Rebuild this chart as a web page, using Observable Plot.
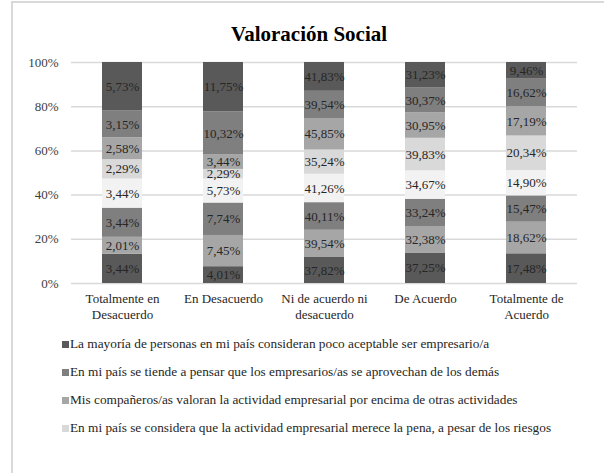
<!DOCTYPE html>
<html>
<head>
<meta charset="utf-8">
<script src="https://cdn.jsdelivr.net/npm/d3@7"></script>
<script src="https://cdn.jsdelivr.net/npm/@observablehq/plot@0.6"></script>
<style>
  body { margin: 0; background: #fff; }
  #wrap { position: relative; width: 604px; height: 473px; overflow: hidden; font-family: "Liberation Serif", "Tinos", "DejaVu Serif", serif; }
  #frame { position: absolute; left: 11px; top: 1px; width: 620px; height: 500px; border: 2px solid #d9d9d9; box-sizing: border-box; }
  #title { position: absolute; left: 0; top: 22px; width: 618px; text-align: center; font-weight: bold; font-size: 21px; line-height: 24px; color: #000; }
  #chart { position: absolute; left: 0; top: 0; }
  #legend { position: absolute; left: 62px; top: 336px; font-size: 13.3px; color: #262626; }
  .li { height: 28px; display: flex; align-items: flex-start; line-height: 16px; }
  .sw { width: 7px; height: 7px; margin-right: 1px; margin-top: 5px; flex: none; }
</style>
</head>
<body>
<div id="wrap">
  <div id="frame"></div>
  <div id="chart"></div>
  <div id="title">Valoración Social</div>
  <div id="legend"></div>
</div>
<script>
const categories = ["Totalmente en Desacuerdo", "En Desacuerdo", "Ni de acuerdo ni desacuerdo", "De Acuerdo", "Totalmente de Acuerdo"];
const categoryLine1 = ["Totalmente en", "En Desacuerdo", "Ni de acuerdo ni", "De Acuerdo", "Totalmente de"];
const categoryLine2 = ["Desacuerdo", "", "desacuerdo", "", "Acuerdo"];

// series listed bottom to top of each stack
const seriesNames = [
  "Serie 1",
  "Serie 2",
  "Serie 3",
  "Serie 4",
  "En mi país se considera que la actividad empresarial merece la pena, a pesar de los riesgos",
  "Mis compañeros/as valoran la actividad empresarial por encima de otras actividades",
  "En mi país se tiende a pensar que los empresarios/as se aprovechan de los demás",
  "La mayoría de personas en mi país consideran poco aceptable ser empresario/a"
];
const seriesColors = ["#595959", "#a6a6a6", "#7f7f7f", "#f2f2f2", "#d9d9d9", "#a6a6a6", "#7f7f7f", "#595959"];

// values per series (bottom to top), one per category
const s1 = [3.44, 4.01, 37.82, 37.25, 17.48];
const s2 = [2.01, 7.45, 39.54, 32.38, 18.62];
const s3 = [3.44, 7.74, 40.11, 33.24, 15.47];
const s4 = [3.44, 5.73, 41.26, 34.67, 14.90];
const s5 = [2.29, 2.29, 35.24, 39.83, 20.34];
const s6 = [2.58, 3.44, 45.85, 30.95, 17.19];
const s7 = [3.15, 10.32, 39.54, 30.37, 16.62];
const s8 = [5.73, 11.75, 41.83, 31.23, 9.46];
const seriesValues = [s1, s2, s3, s4, s5, s6, s7, s8];

const yTicks = [0, 0.2, 0.4, 0.6, 0.8, 1];
const legendShown = [7, 6, 5, 4];

const data = [];
seriesNames.forEach((s, i) => {
  categories.forEach((c, j) => {
    data.push({category: c, series: s, value: seriesValues[i][j]});
  });
});

const fmt = v => v.toFixed(2).replace(".", ",") + "%";
const ff = "'Liberation Serif', 'Tinos', 'DejaVu Serif', serif";

const plot = Plot.plot({
  width: 604,
  height: 330,
  marginLeft: 71,
  marginRight: 27,
  marginTop: 62,
  marginBottom: 47,
  style: {fontFamily: ff, fontSize: "13px", background: "transparent"},
  x: {domain: categories, paddingInner: 0.6, paddingOuter: 0.3, label: null, axis: null},
  y: {domain: [0, 1], label: null, axis: null},
  color: {domain: seriesNames, range: seriesColors},
  marks: [
    Plot.ruleY(yTicks, {stroke: "#d9d9d9", strokeWidth: 1.5}),
    Plot.barY(data, Plot.stackY({offset: "normalize", order: null}, {x: "category", y: "value", z: "series", fill: "series"})),
    Plot.text(data, Plot.stackY({offset: "normalize", order: null}, {x: "category", y: "value", z: "series", text: d => fmt(d.value), fill: "#262626", fontSize: 13})),
    Plot.axisY({ticks: yTicks, tickSize: 0, tickPadding: 13, tickFormat: d => Math.round(d * 100) + "%", fill: "#404040", fontSize: 13, label: null}),
    Plot.axisX({tickSize: 0, tickPadding: 10, tickFormat: d => categoryLine1[categories.indexOf(d)], fill: "#262626", fontSize: 13, label: null}),
    Plot.axisX({tickSize: 0, tickPadding: 26, tickFormat: d => categoryLine2[categories.indexOf(d)], fill: "#262626", fontSize: 13, label: null})
  ]
});
document.getElementById("chart").appendChild(plot);

const legend = document.getElementById("legend");
legendShown.forEach(i => {
  const row = document.createElement("div");
  row.className = "li";
  const sw = document.createElement("span");
  sw.className = "sw";
  sw.style.background = seriesColors[i];
  const t = document.createElement("span");
  t.textContent = seriesNames[i];
  row.appendChild(sw);
  row.appendChild(t);
  legend.appendChild(row);
});
</script>
</body>
</html>
